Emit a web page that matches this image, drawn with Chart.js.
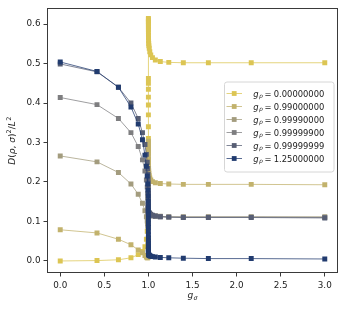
<!DOCTYPE html>
<html><head><meta charset="utf-8">
<script src="https://cdn.jsdelivr.net/npm/chart.js@4.4.0/dist/chart.umd.min.js"></script>
<style>html,body{margin:0;padding:0;background:#fff;}canvas{display:block;}</style>
</head><body>
<canvas id="c" width="345" height="311" style="width:345px;height:311px"></canvas>
<script>
const gSigma = [0, 0.417, 0.660, 0.802, 0.8845, 0.9326, 0.9607, 0.9771, 0.98665, 0.99222, 0.99546, 0.99735, 0.99846, 0.9991, 0.999475, 0.999694, 0.999822, 0.999896, 0.999939, 0.9999646, 0.9999794, 0.999988, 0.999993, 0.9999959,
  1.0000082, 1.000014, 1.000024, 1.0000412, 1.0000708, 1.000121, 1.000208, 1.000356, 1.000612, 1.00105, 1.0018, 1.0031, 1.0053, 1.0091, 1.0156, 1.0267, 1.0458, 1.0786, 1.135, 1.231, 1.396, 1.680, 2.166, 3.0];
const gRhoLabels = ['0.00000000', '0.99000000', '0.99990000', '0.99999900', '0.99999999', '1.25000000'];
const series0 = [0.000, 0.001, 0.003, 0.008, 0.016, 0.024, 0.036, 0.055, 0.075, 0.100, 0.130, 0.160, 0.190, 0.220, 0.250, 0.280, 0.310, 0.340, 0.370, 0.395, 0.415, 0.435, 0.450, 0.462,
  0.614, 0.611, 0.607, 0.603, 0.598, 0.592, 0.586, 0.579, 0.572, 0.565, 0.558, 0.551, 0.545, 0.539, 0.530, 0.522, 0.515, 0.509, 0.505, 0.503, 0.502, 0.502, 0.502, 0.502];
const series1 = [0.079, 0.071, 0.055, 0.041, 0.028, 0.021, 0.014, 0.010, 0.008, 0.008, 0.010, 0.016, 0.030, 0.055, 0.090, 0.130, 0.170, 0.205, 0.235, 0.258, 0.275, 0.288, 0.296, 0.300,
  0.303, 0.299, 0.294, 0.288, 0.281, 0.273, 0.265, 0.257, 0.249, 0.241, 0.234, 0.228, 0.222, 0.216, 0.210, 0.205, 0.201, 0.198, 0.196, 0.195, 0.194, 0.194, 0.194, 0.193];
const series2 = [0.266, 0.251, 0.224, 0.195, 0.169, 0.146, 0.127, 0.112, 0.101, 0.094, 0.089, 0.087, 0.088, 0.092, 0.098, 0.106, 0.114, 0.121, 0.127, 0.132, 0.136, 0.139, 0.141, 0.142,
  0.142, 0.141, 0.140, 0.138, 0.136, 0.134, 0.132, 0.130, 0.128, 0.126, 0.124, 0.122, 0.120, 0.118, 0.117, 0.116, 0.115, 0.114, 0.113, 0.112, 0.112, 0.112, 0.112, 0.112];
const series3 = [0.414, 0.396, 0.361, 0.325, 0.290, 0.256, 0.228, 0.205, 0.187, 0.172, 0.160, 0.151, 0.144, 0.139, 0.135, 0.132, 0.130, 0.128, 0.127, 0.126, 0.125, 0.125, 0.124, 0.124,
  0.124, 0.123, 0.123, 0.122, 0.122, 0.121, 0.121, 0.120, 0.120, 0.119, 0.119, 0.118, 0.117, 0.117, 0.116, 0.115, 0.114, 0.113, 0.112, 0.111, 0.111, 0.111, 0.111, 0.110];
const series4 = [0.499, 0.479, 0.440, 0.400, 0.361, 0.325, 0.295, 0.270, 0.250, 0.234, 0.220, 0.208, 0.197, 0.187, 0.178, 0.170, 0.163, 0.157, 0.152, 0.147, 0.143, 0.140, 0.137, 0.135,
  0.134, 0.133, 0.132, 0.131, 0.130, 0.129, 0.128, 0.127, 0.126, 0.125, 0.124, 0.123, 0.122, 0.121, 0.120, 0.118, 0.116, 0.114, 0.112, 0.111, 0.110, 0.110, 0.110, 0.109];
const series5 = [0.504, 0.480, 0.440, 0.390, 0.347, 0.307, 0.268, 0.240, 0.215, 0.195, 0.179, 0.165, 0.152, 0.140, 0.128, 0.117, 0.106, 0.095, 0.085, 0.075, 0.066, 0.058, 0.051, 0.045,
  0.040, 0.036, 0.033, 0.030, 0.027, 0.025, 0.023, 0.021, 0.019, 0.018, 0.017, 0.016, 0.015, 0.014, 0.013, 0.012, 0.011, 0.010, 0.009, 0.008, 0.007, 0.006, 0.006, 0.005];
const xTicks = [0, 0.5, 1.0, 1.5, 2.0, 2.5, 3.0];
const yTicks = [0, 0.1, 0.2, 0.3, 0.4, 0.5, 0.6];

const allSeries = [series0, series1, series2, series3, series4, series5];
const markerColors = ['#dcc553', '#c2b26c', '#a39c7e', '#7e7e80', '#575e74', '#213b6f'];
const lineColors = ['rgba(220,197,83,0.75)', 'rgba(194,178,108,0.75)', 'rgba(163,156,126,0.75)', 'rgba(126,126,128,0.75)', 'rgba(87,94,116,0.75)', 'rgba(33,59,111,0.75)'];
const FONT = 'DejaVu Sans';

const datasets = allSeries.map((s, i) => ({
  label: gRhoLabels[i],
  data: gSigma.map((x, j) => ({x: x, y: s[j]})),
  borderColor: lineColors[i],
  backgroundColor: markerColors[i],
  borderWidth: 1,
  pointStyle: 'rect',
  pointRadius: 3.5,
  pointBorderWidth: 0,
  pointBackgroundColor: markerColors[i],
  showLine: true,
  tension: 0,
  order: 5 - i
}));

function drawPieces(ctx, pieces, x, y) {
  let cx = x;
  for (const p of pieces) {
    ctx.font = p.font;
    ctx.fillText(p.t, cx, y + (p.dy || 0));
    cx += ctx.measureText(p.t).width + (p.sp || 0);
  }
  return cx;
}
function piecesWidth(ctx, pieces) {
  let w = 0;
  for (const p of pieces) { ctx.font = p.font; w += ctx.measureText(p.t).width + (p.sp || 0); }
  return w;
}

const decor = {
  id: 'decor',
  afterDraw(chart) {
    const ctx = chart.ctx, a = chart.chartArea;
    ctx.save();
    ctx.strokeStyle = '#3a3a3a';
    ctx.lineWidth = 1;
    ctx.strokeRect(Math.round(a.left) + 0.5, Math.round(a.top) + 0.5, Math.round(a.right - a.left) - 1, Math.round(a.bottom - a.top) - 1);
    const lx = 224, ly = 81.5, lw = 109.5, lh = 90;
    ctx.beginPath();
    if (ctx.roundRect) ctx.roundRect(lx + 0.5, ly + 0.5, lw, lh, 2.5); else ctx.rect(lx + 0.5, ly + 0.5, lw, lh);
    ctx.fillStyle = 'rgba(255,255,255,0.85)';
    ctx.fill();
    ctx.strokeStyle = '#d6d6d6';
    ctx.stroke();
    ctx.textBaseline = 'alphabetic';
    for (let i = 0; i < 6; i++) {
      const yy = 93.5 + i * 13;
      ctx.strokeStyle = lineColors[i];
      ctx.lineWidth = 1;
      ctx.beginPath(); ctx.moveTo(226.5, yy); ctx.lineTo(242, yy); ctx.stroke();
      ctx.fillStyle = markerColors[i];
      ctx.fillRect(234.2 - 2.4, yy - 2.4, 4.8, 4.8);
      ctx.fillStyle = '#1a1a1a';
      drawPieces(ctx, [
        {t: 'g', font: 'italic 8.4px ' + FONT, sp: 0.3},
        {t: 'ρ', font: 'italic 6px ' + FONT, dy: 1.8, sp: 1.8},
        {t: '=', font: '8.4px ' + FONT, sp: 2.2},
        {t: gRhoLabels[i], font: '8.4px ' + FONT}
      ], 253.3, yy + 3);
    }
    const xp = [
      {t: 'g', font: 'italic 9px ' + FONT, sp: 0.3},
      {t: 'σ', font: 'italic 6.4px ' + FONT, dy: 1.9}
    ];
    const xw = piecesWidth(ctx, xp);
    drawPieces(ctx, xp, (a.left + a.right) / 2 - xw / 2, 298);
    const yp = [
      {t: 'D', font: 'italic 9px ' + FONT},
      {t: '(', font: '9px ' + FONT},
      {t: 'ρ', font: 'italic 9px ' + FONT},
      {t: ', ', font: '9px ' + FONT},
      {t: 'σ', font: 'italic 9px ' + FONT},
      {t: ')', font: '9px ' + FONT},
      {t: '2', font: '6.4px ' + FONT, dy: -3.7, sp: 0.3},
      {t: '/', font: '9px ' + FONT},
      {t: 'L', font: 'italic 9px ' + FONT, sp: 0.5},
      {t: '2', font: '6.4px ' + FONT, dy: -3.7}
    ];
    const yw = piecesWidth(ctx, yp);
    ctx.translate(14.5, (a.top + a.bottom) / 2);
    ctx.rotate(-Math.PI / 2);
    drawPieces(ctx, yp, -yw / 2, 0);
    ctx.restore();
  }
};

new Chart(document.getElementById('c'), {
  type: 'scatter',
  data: {datasets},
  options: {
    responsive: false,
    animation: false,
    devicePixelRatio: 1,
    layout: {padding: {top: 6, right: 7, left: 0, bottom: 0}},
    plugins: {legend: {display: false}, tooltip: {enabled: false}},
    scales: {
      x: {
        type: 'linear', min: -0.15, max: 3.15,
        afterBuildTicks: s => { s.ticks = xTicks.map(v => ({value: v})); },
        afterFit: s => { s.height = 38; },
        grid: {display: true, drawOnChartArea: false, drawTicks: true, tickLength: 3.5, color: '#3a3a3a'},
        border: {display: false},
        ticks: {color: '#222', font: {family: FONT, size: 8.8}, padding: 4, maxRotation: 0, autoSkip: false,
          callback: v => Number(v).toFixed(1)}
      },
      y: {
        type: 'linear', min: -0.0305, max: 0.64,
        afterBuildTicks: s => { s.ticks = yTicks.map(v => ({value: v})); },
        afterFit: s => { s.width = 47; },
        grid: {display: true, drawOnChartArea: false, drawTicks: true, tickLength: 3.5, color: '#3a3a3a'},
        border: {display: false},
        ticks: {color: '#222', font: {family: FONT, size: 8.8}, padding: 3, autoSkip: false,
          callback: v => Number(v).toFixed(1)}
      }
    }
  },
  plugins: [decor]
});
</script>
</body></html>
